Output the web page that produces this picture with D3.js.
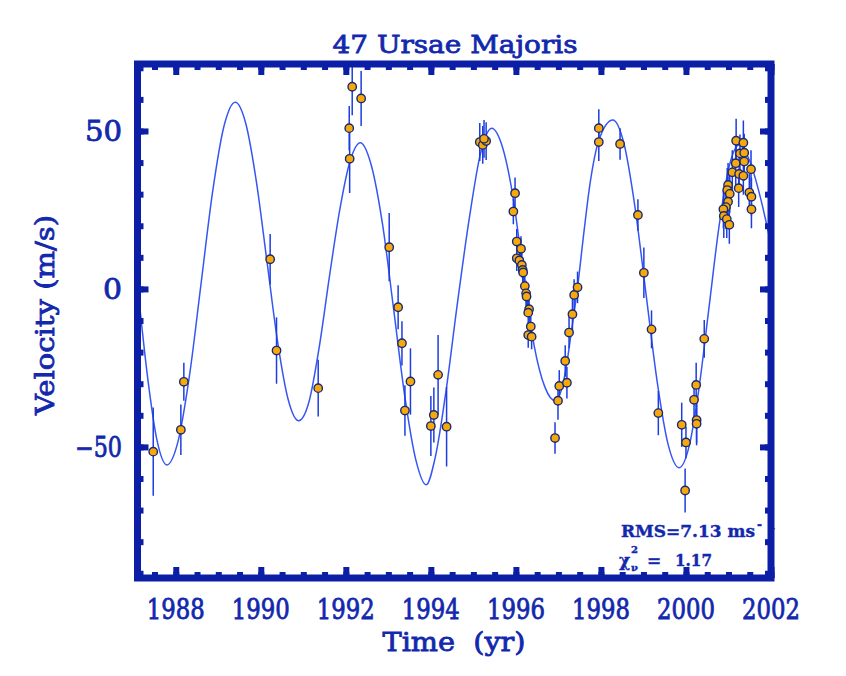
<!DOCTYPE html>
<html><head><meta charset="utf-8">
<script src="https://cdn.jsdelivr.net/npm/d3@7"></script>
<style>body{margin:0;background:#fff}svg{display:block}</style>
</head><body><svg id="c" width="846" height="676"></svg>
<script>
// ---- data ----
const obsYear = [1987.47,1988.12,1988.19,1990.22,1990.37,1991.35,1992.09,1992.08,1992.15,1992.36,
  1993.02,1993.23,1993.32,1993.52,1993.39,1994.17,1994.07,1994.00,1994.37,
  1995.15,1995.22,1995.30,1995.25,
  1995.98,1995.94,1996.02,1996.12,1996.02,1996.08,1996.14,1996.16,1996.17,1996.21,1996.24,1996.25,1996.31,1996.29,1996.35,1996.29,1996.37,
  1996.92,1996.99,1997.02,1997.16,1997.20,1997.25,1997.33,1997.37,1997.45,
  1997.95,1997.95,1998.45,1998.87,1999.01,1999.19,1999.35,
  1999.90,2000.00,1999.98,2000.19,2000.24,2000.25,2000.25,2000.43,
  2001.18,2001.35,2001.27,2001.37,2001.17,2001.37,2001.53,2001.09,2001.25,2001.35,2000.99,2001.24,2001.49,2001.54,2000.97,2001.03,2000.99,2000.94,2000.88,2001.54,2000.89,2000.96,2001.02];
const obsVel = [-51.5,-44.6,-29.4,9.4,-19.5,-31.4,41.2,50.9,64.0,60.3,
  13.2,-5.8,-17.2,-29.3,-38.5,-27.2,-39.9,-43.4,-43.6,
  46.5,45.6,46.8,47.5,
  30.3,24.5,15.0,12.7,9.7,9.0,7.6,6.0,5.2,0.9,-1.4,-2.4,-6.4,-7.5,-11.9,-14.6,-15.1,
  -47.2,-35.4,-30.7,-22.8,-29.7,-13.8,-8.0,-1.9,0.5,
  50.9,46.5,45.9,23.4,5.1,-12.8,-39.3,
  -43.0,-48.6,-63.8,-35.1,-30.4,-41.5,-42.7,-15.8,
  46.9,46.3,42.9,43.1,39.8,40.3,37.9,36.9,36.4,35.8,32.9,31.9,30.5,29.2,31.3,30.1,27.6,25.9,25.2,25.2,23.1,22.1,20.3];
const obsErr = [14,8,6,8,10.5,9,10.8,7,9,8.7,
  10.8,7,7,10.5,8,12.6,8.7,9.5,12.6,
  6,6,6,6,
  5,4,4,4,4,4,4,4,4,4,4,4,4,4,4,4,4,
  5,6,5,5,5,5,5,5,5,
  6,6,5,5,8,6,7,
  7,5,7,6,7,8,6,6,
  7,7,6,6,7,6,6,7,6,6,7,6,6,6,7,6,6,7,6,6,7,6,6];
// fitted orbit curve, sampled from the reference line
const fitYear = [1987.11,1987.337,1987.563,1987.79,
  1988.058,1988.327,1988.595,1988.863,1989.132,1989.40,
  1989.648,1989.897,1990.145,1990.393,1990.642,1990.89,
  1991.132,1991.373,1991.615,1991.857,1992.098,1992.34,
  1992.602,1992.863,1993.125,1993.387,1993.648,1993.89,
  1994.10,1994.37,1994.61,1994.90,1995.17,1995.43,
  1995.68,1995.93,1996.18,1996.43,1996.68,1996.93,
  1997.155,1997.30,1997.45,1997.60,1997.74,1997.95,1998.28,
  1998.54,1998.80,1999.06,1999.32,1999.58,1999.84,
  2000.075,2000.31,2000.545,2000.78,2001.015,2001.25,
  2001.50,2001.75,2002.0];
const fitVel = [0,-27.9,-48.2,-55.7,
  -48.0,-27.0,1.7,30.4,51.4,59.1,
  52.3,33.9,8.7,-16.5,-34.9,-41.7,
  -35.8,-18.5,4.0,25.0,40.4,46.3,
  39.0,20.5,-6.5,-34.0,-54.2,-62.0,
  -53.5,-31.0,-6.0,22.0,43.0,50.9,
  45.1,29.3,4.5,-18.0,-31.0,-35.4,
  -27.0,-14.0,0.5,18.0,33.0,47.0,53.5,
  46.1,26.0,-1.55,-29.1,-49.2,-56.6,
  -49.75,-31.05,-5.5,20.05,38.75,45.6,
  40.5,29.0,14.0];
const xMajorTicks = [1988,1990,1992,1994,1996,1998,2000,2002];
const xMinorTicks = d3.range(1987.5,2002.01,0.5);
const yMajorTicks = [-50,0,50];
const yMinorTicks = d3.range(-90,71,10);
const titleText = "47 Ursae Majoris";
const xLabelText = "Time  (yr)";
const yLabelText = "Velocity (m/s)";

// ---- drawing ----
const AX = "#0b1ea5", TX = "#1228ad";
const FONT = "DejaVu Serif, serif";
const svg = d3.select("#c");
const L=137.5, R=771, T=64, B=578;
const x = d3.scaleLinear().domain([1987.1,2002]).range([L,R]);
const y = d3.scaleLinear().domain([-91.5,71.2]).range([B,T]);

svg.append("defs").append("clipPath").attr("id","pc")
  .append("rect").attr("x",L).attr("y",T).attr("width",R-L).attr("height",B-T);
const plot = svg.append("g").attr("clip-path","url(#pc)");

const fitData = fitYear.map((t,i)=>[t,fitVel[i]]);
plot.append("path").datum(fitData)
  .attr("fill","none").attr("stroke","#3556f2").attr("stroke-width",1.5)
  .attr("d", d3.line().x(d=>x(d[0])).y(d=>y(d[1])).curve(d3.curveMonotoneX));

const obs = obsYear.map((t,i)=>({t, v:obsVel[i], e:obsErr[i]}));
plot.append("g").selectAll("line").data(obs).join("line")
  .attr("x1",d=>x(d.t)).attr("x2",d=>x(d.t))
  .attr("y1",d=>y(d.v-d.e)).attr("y2",d=>y(d.v+d.e))
  .attr("stroke","#1c3de0").attr("stroke-width",1.5);
plot.append("g").selectAll("circle").data(obs).join("circle")
  .attr("cx",d=>x(d.t)).attr("cy",d=>y(d.v)).attr("r",4.2)
  .attr("fill","#f7a80a").attr("stroke","#1a2a70").attr("stroke-width",1.4);

// legend text (drawn before frame so the frame hides the end of the unit)
const lg = svg.append("g").attr("fill",TX).attr("stroke",TX).attr("stroke-width",0.4)
  .attr("font-family",FONT).attr("font-weight","bold");
const l1 = lg.append("text").attr("y",537).attr("font-size",17);
l1.append("tspan").attr("x",621).attr("textLength",134).attr("lengthAdjust","spacingAndGlyphs").text("RMS=7.13 ms");
l1.append("tspan").attr("x",757).attr("dy",-8).attr("font-size",12).text("-");
l1.append("tspan").attr("x",768).attr("font-size",11).text("1");
lg.append("text").attr("x",619).attr("y",566).attr("font-size",17).text("χ");
lg.append("text").attr("x",631).attr("y",553).attr("font-size",10).text("2");
lg.append("text").attr("x",631).attr("y",571).attr("font-size",10).text("ν");
const l2 = lg.append("text").attr("y",566).attr("font-size",17);
l2.append("tspan").attr("x",647).text("=");
l2.append("tspan").attr("x",675).attr("textLength",37).attr("lengthAdjust","spacingAndGlyphs").text("1.17");

// axes (ticks on all four sides, IDL style)
function styleAxis(g){ g.select(".domain").remove(); g.selectAll("line").attr("stroke",AX).attr("stroke-width",6); g.selectAll("text").remove(); }
svg.append("g").attr("transform",`translate(0,${B})`).call(d3.axisBottom(x).tickValues(xMajorTicks).tickSize(-11)).call(styleAxis);
svg.append("g").attr("transform",`translate(0,${B})`).call(d3.axisBottom(x).tickValues(xMinorTicks).tickSize(-6)).call(styleAxis);
svg.append("g").attr("transform",`translate(0,${T})`).call(d3.axisTop(x).tickValues(xMajorTicks).tickSize(-11)).call(styleAxis);
svg.append("g").attr("transform",`translate(0,${T})`).call(d3.axisTop(x).tickValues(xMinorTicks).tickSize(-6)).call(styleAxis);
svg.append("g").attr("transform",`translate(${L},0)`).call(d3.axisLeft(y).tickValues(yMajorTicks).tickSize(-11)).call(styleAxis);
svg.append("g").attr("transform",`translate(${L},0)`).call(d3.axisLeft(y).tickValues(yMinorTicks).tickSize(-6)).call(styleAxis);
svg.append("g").attr("transform",`translate(${R},0)`).call(d3.axisRight(y).tickValues(yMajorTicks).tickSize(-11)).call(styleAxis);
svg.append("g").attr("transform",`translate(${R},0)`).call(d3.axisRight(y).tickValues(yMinorTicks).tickSize(-6)).call(styleAxis);

svg.append("rect").attr("x",L).attr("y",T).attr("width",R-L).attr("height",B-T)
  .attr("fill","none").attr("stroke",AX).attr("stroke-width",7);

// tick labels
const tf = svg.append("g").attr("fill",TX).attr("stroke",TX).attr("stroke-width",0.8)
  .attr("font-family",FONT).attr("font-weight","normal");
tf.selectAll(".xl").data(xMajorTicks).join("text").attr("class","xl")
  .attr("x",d=>x(d)).attr("y",619).attr("text-anchor","middle").attr("font-size",27)
  .attr("textLength",58).attr("lengthAdjust","spacingAndGlyphs").text(d=>d);
tf.selectAll(".yl").data(yMajorTicks).join("text").attr("class","yl")
  .attr("x",122).attr("y",d=>y(d)+10).attr("text-anchor","end").attr("font-size",27)
  .attr("textLength",d=>d<0?47:(d===0?19:37)).attr("lengthAdjust","spacingAndGlyphs")
  .text(d=>d<0?"\u2212"+Math.abs(d):String(d));

// titles
tf.append("text").attr("x",455).attr("y",53).attr("text-anchor","middle").attr("font-size",25)
  .attr("textLength",245).attr("lengthAdjust","spacingAndGlyphs").text(titleText);
tf.append("text").attr("x",454).attr("y",651).attr("text-anchor","middle").attr("font-size",26)
  .style("white-space","pre").attr("textLength",143).attr("lengthAdjust","spacingAndGlyphs").text(xLabelText);
tf.append("text").attr("transform","translate(54,315) rotate(-90)").attr("text-anchor","middle").attr("font-size",26)
  .attr("textLength",200).attr("lengthAdjust","spacingAndGlyphs").text(yLabelText);
</script></body></html>
